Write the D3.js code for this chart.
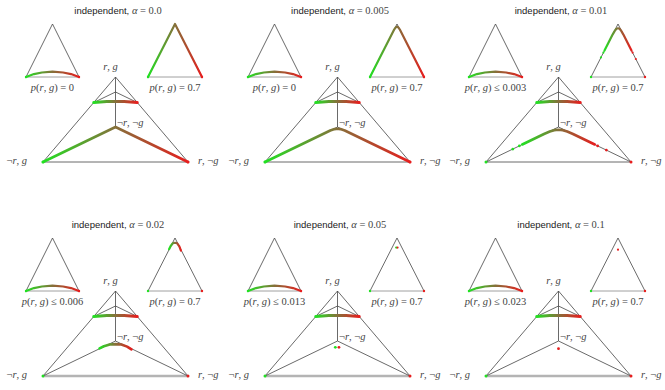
<!DOCTYPE html>
<html>
<head>
<meta charset="utf-8">
<script src="https://cdn.jsdelivr.net/npm/d3@7"></script>
<style>
  body { margin: 0; background: #fff; }
  svg { display: block; }
  .math { font-family: "Liberation Serif", "DejaVu Serif", serif; fill: #444; }
  .title { font-family: "Liberation Sans", Arial, sans-serif; font-size: 9.5px; fill: #222; }
</style>
</head>
<body>
<svg id="chart" width="665" height="390"></svg>
<script>
// one panel per significance level
const alphas = [0.0, 0.005, 0.01, 0.02, 0.05, 0.1];
const alphaLabels = ["0.0", "0.005", "0.01", "0.02", "0.05", "0.1"];
const boundLabels = ["= 0", "= 0", "≤ 0.003", "≤ 0.006", "≤ 0.013", "≤ 0.023"];
const sliceLevel = 0.7;
const sliceLabel = "= 0.7";

// corners of the simplex, p = [p(r,g), p(r,¬g), p(¬r,g), p(¬r,¬g)]
const corners = [
  {name: "r, g", p: [1, 0, 0, 0]},
  {name: "r, ¬g", p: [0, 1, 0, 0]},
  {name: "¬r, g", p: [0, 0, 1, 0]},
  {name: "¬r, ¬g", p: [0, 0, 0, 1]}
];

// points are [along the front edge, towards the back corner] inside a triangle
// curve in the p(r,g) = 0.7 slice (same for every alpha)
const sliceCurve = [[0, 0], [0.15, 0.055], [0.3, 0.085], [0.5, 0.1], [0.7, 0.085], [0.85, 0.055], [1, 0]];

// curve in the bottom face, one per alpha
const faceCurves = [
  [[0, 0], [0.5, 1], [1, 0]],
  [[0, 0], [0.45, 0.9], [0.48, 0.94], [0.5, 0.95], [0.52, 0.94], [0.55, 0.9], [1, 0]],
  [[0.25, 0.5], [0.4, 0.8], [0.44, 0.87], [0.47, 0.91], [0.5, 0.92], [0.53, 0.91], [0.56, 0.87], [0.6, 0.8], [0.75, 0.5]],
  [[0.39, 0.79], [0.42, 0.85], [0.46, 0.9], [0.5, 0.91], [0.54, 0.9], [0.58, 0.84], [0.61, 0.76]],
  [],
  []
];
// isolated samples in the same face: [along, towards back, colour]
const faceDots = [
  [],
  [],
  [[0.23, 0.46, "g"], [0.185, 0.37, "g"], [0.77, 0.46, "r"], [0.83, 0.34, "r"]],
  [],
  [[0.485, 0.82, "g"], [0.51, 0.82, "r"]],
  [[0.5, 0.78, "r"]]
];

const green = "#22e022", mid = "#86703a", red = "#e61e1e";

const svg = d3.select("#chart");
const defs = svg.append("defs");

const colX = [0, 222, 443], rowY = [0, 214];
const backHeight = 35 / 85; // height of the back corner in the drawing

const cornerXY = {"r, g": [0.5, 1], "r, ¬g": [1, 0], "¬r, g": [0, 0], "¬r, ¬g": [0.5, backHeight]};

function unitOf(p) {
  let u = 0, v = 0;
  corners.forEach((c, k) => {
    u += p[k] * cornerXY[c.name][0];
    v += p[k] * cornerXY[c.name][1];
  });
  return [u, v];
}
// triangle point -> weights [front-left, front-right, back]
function weights(pt) { return [1 - pt[0] - 0.5 * pt[1], pt[0] - 0.5 * pt[1], pt[1]]; }
function faceToP(pt) { const w = weights(pt); return [0, w[1], w[0], w[2]]; }
function sliceToP(pt) {
  const w = weights(pt), s = 1 - sliceLevel;
  return [sliceLevel, s * w[1], s * w[0], s * w[2]];
}

function mathText(g, x, y, str, size, anchor) {
  const t = g.append("text").attr("class", "math")
    .attr("x", x).attr("y", y)
    .attr("font-size", size)
    .attr("text-anchor", anchor || "middle");
  str.match(/[a-zα]+|[^a-zα]+/g).forEach(s => {
    t.append("tspan").attr("font-style", /[a-zα]/.test(s) ? "italic" : "normal").text(s);
  });
  return t;
}

let gradCount = 0;
const line = d3.line().curve(d3.curveLinear);
function drawCurve(g, pts, width) {
  if (pts.length < 2) return;
  const id = "grad" + (gradCount++);
  const lg = defs.append("linearGradient").attr("id", id)
    .attr("gradientUnits", "userSpaceOnUse")
    .attr("x1", pts[0][0]).attr("x2", pts[pts.length - 1][0])
    .attr("y1", 0).attr("y2", 0);
  [[0, green], [0.5, mid], [1, red]].forEach(s => lg.append("stop").attr("offset", s[0]).attr("stop-color", s[1]));
  g.append("path").attr("d", line(pts))
    .attr("fill", "none")
    .attr("stroke", `url(#${id})`)
    .attr("stroke-width", width)
    .attr("stroke-linejoin", "round")
    .attr("stroke-linecap", "round");
}
function drawDots(g, pts, r) {
  g.selectAll(null).data(pts).join("circle")
    .attr("cx", d => d[0]).attr("cy", d => d[1]).attr("r", r)
    .attr("fill", d => d[2] === "g" ? green : red);
}

alphas.forEach((a, i) => {
  const row = Math.floor(i / 3);
  const g = svg.append("g").attr("transform", `translate(${colX[i % 3]},${rowY[row]})`);

  // title
  const title = g.append("text").attr("class", "title")
    .attr("x", 118).attr("y", 13.5).attr("text-anchor", "middle");
  title.append("tspan").text("independent, ");
  title.append("tspan").attr("class", "math").attr("fill", "#222").attr("font-style", "italic").attr("font-size", 10.5).text("α");
  title.append("tspan").attr("class", "math").attr("fill", "#222").attr("font-size", 10.5).text(" = " + alphaLabels[i]);

  // tetrahedron
  const x = d3.scaleLinear().domain([0, 1]).range([43, 188]);
  const y = d3.scaleLinear().domain([0, 1]).range([162, 77]);
  const proj = p => { const q = unitOf(p); return [x(q[0]), y(q[1])]; };
  const cp = corners.map(c => proj(c.p));

  for (let m = 0; m < 4; m++) {
    for (let n = m + 1; n < 4; n++) {
      const front = (m === 1 && n === 2);
      g.append("line")
        .attr("x1", cp[m][0]).attr("y1", cp[m][1])
        .attr("x2", cp[n][0]).attr("y2", cp[n][1])
        .attr("stroke", front && row === 1 ? "#b4b4b4" : "#444")
        .attr("stroke-width", front && row === 1 ? 2.6 : 0.8);
    }
  }
  // slice p(r,g) = 0.7
  const sc = [[0, 0], [1, 0], [0.5, 1]].map(pt => proj(sliceToP(pt)));
  g.append("path").attr("d", d3.line()(sc) + "Z")
    .attr("fill", "none").attr("stroke", "#444").attr("stroke-width", 0.8);

  drawCurve(g, sliceCurve.map(pt => proj(sliceToP(pt))), 3);
  drawCurve(g, faceCurves[i].map(pt => proj(faceToP(pt))), 2.6);
  drawDots(g, faceDots[i].map(pt => proj(faceToP(pt)).concat(pt[2])), 1.4);
  drawDots(g, [proj(corners[2].p).concat("g"), proj(corners[1].p).concat("r")], 1.5);

  // corner labels
  mathText(g, cp[0][0] - 5, cp[0][1] - 7.5, corners[0].name, 10.5, "middle");
  mathText(g, cp[2][0] - 16, cp[2][1] + 1.5, corners[2].name, 10.5, "end");
  mathText(g, cp[1][0] + 10, cp[1][1] + 1.5, corners[1].name, 10.5, "start");
  mathText(g, cp[3][0] + 1.5, cp[3][1] - 1.5, corners[3].name, 10.5, "start");

  // small triangles: slice on the left, bottom face on the right
  const small = [
    {x0: 26, x1: 79, curve: sliceCurve, dots: [], label: boundLabels[i]},
    {x0: 148, x1: 202, curve: faceCurves[i], dots: faceDots[i], label: sliceLabel}
  ];
  small.forEach(s => {
    const sx = d3.scaleLinear().domain([0, 1]).range([s.x0, s.x1]);
    const sy = d3.scaleLinear().domain([0, 1]).range([77, 24]);
    const tp = pt => [sx(pt[0]), sy(pt[1])];
    const tri = [[0, 0], [0.5, 1], [1, 0]].map(tp);
    g.append("path").attr("d", d3.line()(tri))
      .attr("fill", "none").attr("stroke", "#444").attr("stroke-width", 0.8);
    g.append("line")
      .attr("x1", tri[0][0]).attr("y1", tri[0][1])
      .attr("x2", tri[2][0]).attr("y2", tri[2][1])
      .attr("stroke", "#888").attr("stroke-width", 0.8);
    drawCurve(g, s.curve.map(tp), 2.2);
    drawDots(g, s.dots.map(pt => tp(pt).concat(pt[2])), 1.1);
    drawDots(g, [tp([0, 0]).concat("g"), tp([1, 0]).concat("r")], 1.2);
    mathText(g, (s.x0 + s.x1) / 2, 90.5, "p(r, g) " + s.label, 10.5, "middle");
  });
});
</script>
</body>
</html>
